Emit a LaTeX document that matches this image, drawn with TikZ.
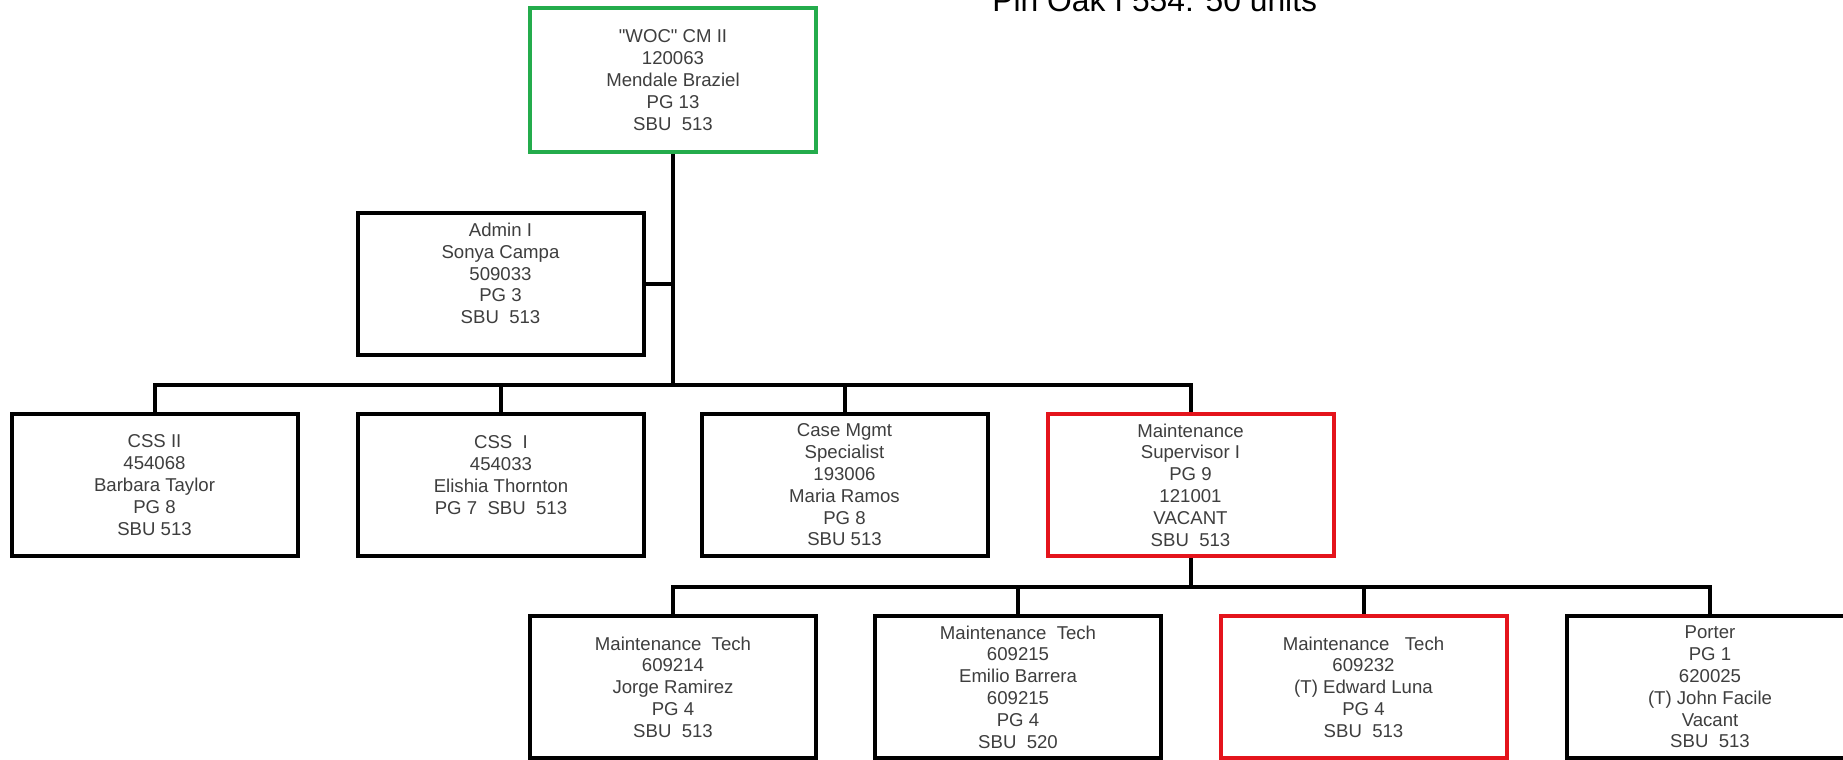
\documentclass[tikz,border=0pt]{standalone}
\usepackage{fontspec}
\setmainfont{Liberation Sans}
\definecolor{txtgray}{RGB}{62,62,62}
\definecolor{boxred}{RGB}{228,20,28}
\definecolor{boxgreen}{RGB}{36,172,76}
\begin{document}
\begin{tikzpicture}[x=0.5pt,y=-0.5pt,
  box/.style={draw=black, line width=2pt, minimum width=143pt, minimum height=71pt,
    inner sep=0pt, align=center, text=txtgray, fill=white,
    font=\fontsize{9.3}{10.9}\selectfont},
  redbox/.style={box, draw=boxred},
  greenbox/.style={box, draw=boxgreen, minimum height=72pt},
  link/.style={line width=2pt, line join=miter, draw=black}]
\useasboundingbox (0,0) rectangle (1843,760);
\clip (0,0) rectangle (1843,760);

\node[anchor=base west, inner sep=0pt, font=\fontsize{15.9}{19}\selectfont] (title) at (992,11) {Pin Oak I 554: 50 units};

\node[greenbox] (top) at (673,80) {\textquotedbl WOC\textquotedbl\ CM II\\120063\\Mendale Braziel\\PG 13\\SBU \ 513};
\node[box] (admin) at (500.5,283.5) {Admin I\\Sonya Campa\\509033\\PG 3\\SBU \ 513\\[-0.8pt]\mbox{}};

\node[box] (css2) at (154.5,485) {CSS II\\454068\\Barbara Taylor\\PG 8\\SBU 513};
\node[box] (css1) at (501,485) {CSS \ I\\454033\\Elishia Thornton\\PG 7 \ SBU \ 513\\[-0.8pt]\mbox{}};
\node[box] (case) at (844.5,485) {Case Mgmt\\Specialist\\193006\\Maria Ramos\\PG 8\\SBU 513};
\node[redbox] (sup) at (1190.5,485) {Maintenance\\Supervisor I\\PG 9\\121001\\VACANT\\SBU \ 513};

\node[box] (mt1) at (673,687) {Maintenance \ Tech\\609214\\Jorge Ramirez\\PG 4\\SBU \ 513};
\node[box] (mt2) at (1018,687) {Maintenance \ Tech\\609215\\Emilio Barrera\\609215\\PG 4\\SBU \ 520};
\node[redbox] (mt3) at (1363.5,687) {Maintenance \ \ Tech\\609232\\(T) Edward Luna\\PG 4\\SBU \ 513};
\node[box] (porter) at (1710,687) {Porter\\PG 1\\620025\\(T) John Facile\\Vacant\\SBU \ 513};

\coordinate (bus1) at (673,385);
\coordinate (bus2) at (1190.5,587);

\draw[link] (top.south) -- (bus1);
\draw[link] (admin.east) -- (admin.east -| bus1);
\foreach \n in {css2,css1,case,sup} \draw[link] (bus1) -| (\n.north);
\draw[link] (sup.south) -- (bus2);
\foreach \n in {mt1,mt2,mt3,porter} \draw[link] (bus2) -| (\n.north);
\end{tikzpicture}
\end{document}
